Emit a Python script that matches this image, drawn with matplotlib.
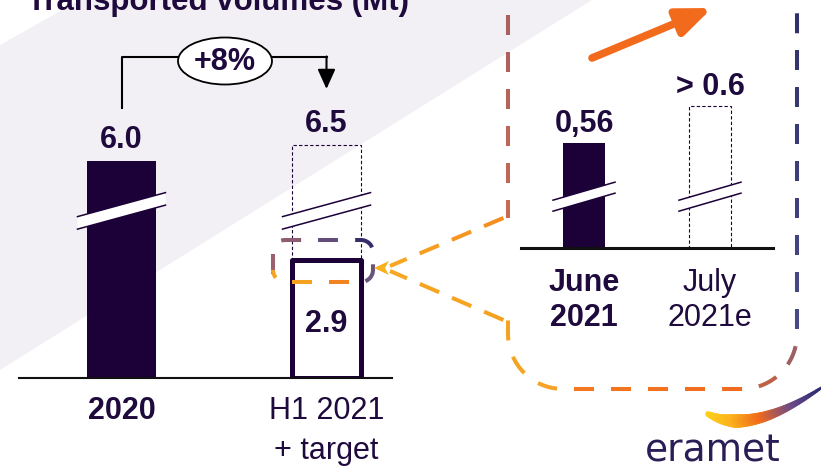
import numpy as np
import matplotlib
matplotlib.use('Agg')
import matplotlib.pyplot as plt
from matplotlib.collections import LineCollection
from matplotlib.patches import Polygon, Ellipse, FancyArrowPatch
from matplotlib.colors import to_rgb

plt.rcParams['font.family'] = ['Liberation Sans', 'DejaVu Sans']

# ---- data ----
title = 'Transported volumes (Mt)'
periods = ['2020', 'H1 2021\n+ target']
volumes = [6.0, 2.9]
volume_labels = ['6.0', '2.9']
target = 6.5
target_label = '6.5'
growth_label = '+8%'
months = ['June\n2021', 'July\n2021e']
month_volumes = [0.56, 0.6]
month_labels = ['0,56', '> 0.6']

DARK = '#1c0038'
TEXT = '#1e0a3c'
W, H = 821, 468

fig = plt.figure(figsize=(W / 100, H / 100), dpi=100)


def frac_box(x0, y0, x1, y1):
    # pixel box (y down) -> figure fraction rect
    return [x0 / W, 1 - y1 / H, (x1 - x0) / W, (y1 - y0) / H]


def pixel_axes(z):
    a = fig.add_axes([0, 0, 1, 1], zorder=z)
    a.set_xlim(0, W)
    a.set_ylim(H, 0)
    a.axis('off')
    a.patch.set_alpha(0)
    return a


bg = pixel_axes(0)
bg.add_patch(Polygon([(0, 45), (80, 0), (592, 0), (0, 370)], closed=True,
                     fc='#f2f0f5', ec='none'))
bg.text(27, 10, title, fontsize=22.5, fontweight='bold', color=TEXT,
        ha='left', va='baseline')


def fwd(v):
    v = np.asarray(v, float)
    return np.where(v <= 3, v, 3 + (v - 3) * 0.778)


def inv(u):
    u = np.asarray(u, float)
    return np.where(u <= 3, u, 3 + (u - 3) / 0.778)


# ---- left panel (broken axis above 3 Mt) ----
ax1 = fig.add_axes(frac_box(19, 100, 392, 378), zorder=1)
ax1.patch.set_alpha(0)
ax1.set_yscale('function', functions=(fwd, inv))
ax1.set_xlim(-0.5, 1.3195)
ax1.set_ylim(0, 7.92)
x1 = np.arange(len(periods))
bw1 = 0.337
ax1.bar(x1[1], target, width=bw1, fill=False, ec=DARK, ls=(0, (3, 2)), lw=0.8)
ax1.bar(x1[0], volumes[0], width=bw1, color=DARK)
ax1.bar(x1[1], volumes[1], width=bw1, fc='white', ec=DARK, lw=3.6, joinstyle='round')

ax1.annotate(volume_labels[0], (x1[0], volumes[0]), xytext=(0, 9.4), textcoords='offset points',
             ha='center', va='baseline', fontsize=22, fontweight='bold', color=TEXT)
ax1.annotate(target_label, (x1[1], target), xytext=(0, 9.4), textcoords='offset points',
             ha='center', va='baseline', fontsize=22, fontweight='bold', color=TEXT)
ax1.annotate(volume_labels[1], (x1[1], volumes[1]), xytext=(0, -52), textcoords='offset points',
             ha='center', va='baseline', fontsize=22, fontweight='bold', color=TEXT)

# ---- right panel (truncated axis) ----
ax2 = fig.add_axes(frac_box(521, 59, 773, 248), zorder=1)
ax2.patch.set_alpha(0)
ax2.set_xlim(-0.5, 1.5)
ax2.set_ylim(0.4465, 0.4465 + 189 / 925)
x2 = np.arange(len(months))
bw2 = 0.34
ax2.bar(x2[0], month_volumes[0], width=bw2, color=DARK)
ax2.bar(x2[1], month_volumes[1], width=bw2, fill=False, ec=DARK, ls=(0, (3, 2)), lw=0.8)
for xi, v, lab in zip(x2, month_volumes, month_labels):
    ax2.annotate(lab, (xi, v), xytext=(0, 8), textcoords='offset points',
                 ha='center', va='baseline', fontsize=22, fontweight='bold', color=TEXT)

for ax, labels, pad, lw, spacing in [(ax1, periods, 13, 1.5, 1.42), (ax2, months, 14.5, 2.2, 1.22)]:
    ax.set_yticks([])
    for side in ['left', 'right', 'top']:
        ax.spines[side].set_visible(False)
    ax.spines['bottom'].set_linewidth(lw)
    ax.spines['bottom'].set_color('#111111')
    ax.set_xticks(np.arange(len(labels)), labels)
    ax.tick_params(axis='x', length=0, pad=pad, labelsize=22, labelcolor=TEXT)
    for i, t in enumerate(ax.get_xticklabels()):
        t.set_linespacing(spacing)
        if i == 0:
            t.set_fontweight('bold')

# ---- overlay decorations ----
ov = pixel_axes(3)


def px(ax, x, y):
    return bg.transData.inverted().transform(ax.transData.transform((x, y)))


def break_mark(cx, cy, half, rise, gap, lw):
    poly = [(cx - half, cy + rise - gap / 2), (cx + half, cy - rise - gap / 2),
            (cx + half, cy - rise + gap / 2), (cx - half, cy + rise + gap / 2)]
    ov.add_patch(Polygon(poly, closed=True, fc='white', ec='none', zorder=2))
    ov.plot([poly[0][0], poly[1][0]], [poly[0][1], poly[1][1]], color=DARK, lw=lw, zorder=3)
    ov.plot([poly[3][0], poly[2][0]], [poly[3][1], poly[2][1]], color=DARK, lw=lw, zorder=3)


for xi in x1:
    cx, cy = px(ax1, xi, 4.42)
    break_mark(cx, cy, 44, 12, 12.5, 1.1)
for xi in x2:
    cx, cy = px(ax2, xi, 0.502)
    break_mark(cx, cy, 31, 9, 11, 1.1)


def arc(cx, cy, r, a0, a1, n=18):
    t = np.radians(np.linspace(a0, a1, n))
    return np.column_stack([cx + r * np.cos(t), cy + r * np.sin(t)])


def box_path(x0, y0, x1, y1, r, start_y, end_y):
    return np.vstack([[[x0, start_y]],
                      arc(x0 + r, y0 + r, r, 180, 270),
                      arc(x1 - r, y0 + r, r, 270, 360),
                      arc(x1 - r, y1 - r, r, 0, 90),
                      arc(x0 + r, y1 - r, r, 90, 180),
                      [[x0, end_y]]])


def dashed_gradient(pts, anchors, dash, gap, lw, offset=0.0, z=5):
    pts = np.asarray(pts, float)
    seg = np.hypot(*np.diff(pts, axis=0).T)
    s = np.concatenate([[0], np.cumsum(seg)])
    a_s, a_c = [], []
    for x, y, c in anchors:
        i = np.argmin(np.hypot(pts[:, 0] - x, pts[:, 1] - y))
        a_s.append(s[i])
        a_c.append(to_rgb(c))
    order = np.argsort(a_s)
    a_s = np.array(a_s)[order]
    a_c = np.array(a_c)[order]
    segs, cols = [], []
    start = offset
    while start < s[-1]:
        a, b = max(start, 0), min(start + dash, s[-1])
        if b > a:
            ss = np.linspace(a, b, 14)
            segs.append(np.column_stack([np.interp(ss, s, pts[:, 0]), np.interp(ss, s, pts[:, 1])]))
            mid = (a + b) / 2
            cols.append([np.interp(mid, a_s, a_c[:, k]) for k in range(3)])
        start += dash + gap
    ov.add_collection(LineCollection(segs, colors=cols, linewidths=lw, capstyle='butt', zorder=z))


# zoom box on the right
big = box_path(508, -40, 797, 389, 55, 218, 318)
dashed_gradient(big, [(508, 218, '#f07028'), (508, 130, '#c86a50'), (508, 95, '#a86060'),
                      (508, 55, '#8a6070'), (508, 20, '#6a5a8a'), (650, -40, '#3a2a60'),
                      (797, 20, '#201040'), (797, 100, '#30306a'), (797, 210, '#4a4a8a'),
                      (797, 290, '#6a5a80'), (797, 325, '#8a6070'), (785, 380, '#b06055'),
                      (735, 389, '#d8642e'), (690, 389, '#f06a20'), (650, 389, '#f57a20'),
                      (615, 389, '#f78a25'), (580, 389, '#f7a030'), (530, 380, '#f5a623'),
                      (508, 318, '#f5a020')],
                dash=20, gap=17, lw=2.9, offset=-2)

# small box around the H1 bar top
small = box_path(273, 240, 373, 282, 12, 274, 269.9)
dashed_gradient(small, [(273, 263, '#f5a020'), (280, 240, '#9a6070'), (330, 240, '#404080'),
                        (370, 243, '#2a1a50'), (373, 270, '#4a4a8a'), (370, 281, '#a06060'),
                        (337, 282, '#f07020'), (298, 282, '#f5b020')],
                dash=20, gap=17, lw=2.9, offset=0)

# connectors
dashed_gradient([(508, 216), (390, 266)], [(508, 216, '#f28a20'), (390, 266, '#f7a823')],
                dash=21, gap=14, lw=2.9, offset=5)
dashed_gradient([(508, 322), (390, 271)], [(508, 322, '#f5a020'), (390, 271, '#f7a823')],
                dash=21, gap=14, lw=2.9, offset=5)
ov.add_patch(Polygon([(374, 268), (389, 261), (385, 268), (389, 275)], closed=True,
                     fc='#f7b21f', ec='none', zorder=6))

# orange trend arrow
ov.add_patch(FancyArrowPatch((592, 58), (712, 8), arrowstyle='-|>,head_length=1.35,head_width=0.55',
                             mutation_scale=15, lw=5.5, color='#f26a1b', shrinkA=0, shrinkB=0, zorder=6))

# growth bracket
bx0 = px(ax1, x1[0], 0)[0]
bx1 = px(ax1, x1[1], 0)[0]
ov.plot([bx0, bx0, 190], [108, 57, 57], color='black', lw=1.5, zorder=6)
ov.plot([260, bx1], [57, 57], color='black', lw=1.5, zorder=6)
ov.add_patch(FancyArrowPatch((bx1, 56.5), (bx1, 89), arrowstyle='-|>,head_length=1.0,head_width=0.45',
                             mutation_scale=12, lw=1.5, color='black', shrinkA=0, shrinkB=0, zorder=6))
ov.add_patch(Ellipse((225, 61), 94, 47, fc='white', ec='black', lw=1.3, zorder=7))
ov.text(225, 70, growth_label, fontsize=22, fontweight='bold', color=TEXT,
        ha='center', va='baseline', zorder=8)

# logo
t = np.linspace(0, 1, 60)
p0, p1, p2 = np.array([708, 414]), np.array([750, 436]), np.array([821, 388])
curve = ((1 - t) ** 2)[:, None] * p0 + (2 * (1 - t) * t)[:, None] * p1 + (t ** 2)[:, None] * p2
segs = np.stack([curve[:-1], curve[1:]], axis=1)
tm = (t[:-1] + t[1:]) / 2
stops = [0, 0.3, 0.55, 0.8, 1]
stop_cols = np.array([to_rgb(c) for c in ['#ffd21a', '#fbb41c', '#f26a1b', '#6a4a8a', '#2a2a70']])
swoosh_cols = np.column_stack([np.interp(tm, stops, stop_cols[:, k]) for k in range(3)])
widths = np.interp(tm, [0, 0.3, 0.6, 1], [4, 10, 7, 2])
ov.add_collection(LineCollection(segs, colors=swoosh_cols, linewidths=widths,
                                 capstyle='round', zorder=6))
ov.text(713, 461, 'eramet', family='DejaVu Sans', fontsize=27, color='#2b1d55',
        ha='center', va='baseline', zorder=6)

fig.savefig('out.png', dpi=100)
